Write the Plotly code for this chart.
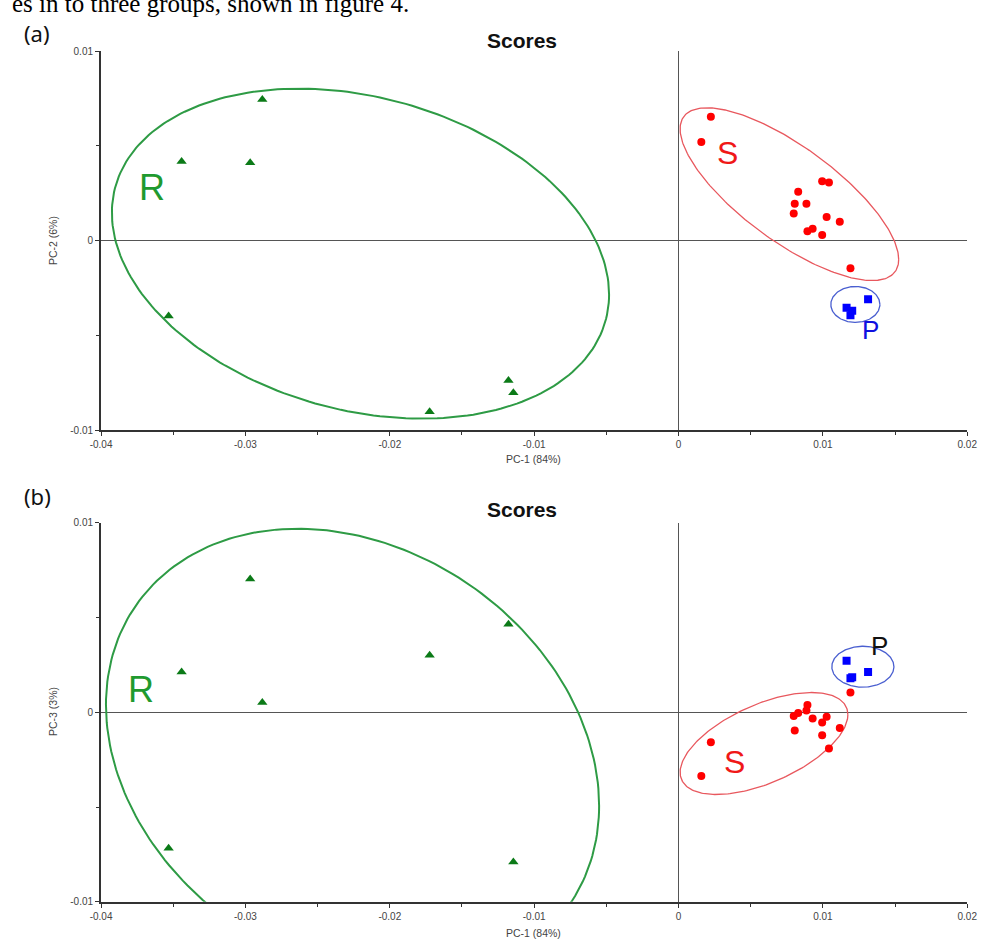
import numpy as np
import plotly.graph_objects as go

# ---------------- data (PCA scores) ----------------
R_pc1 = [-0.03442, -0.02967, -0.02883, -0.03532, -0.01724, -0.01178, -0.01144]
R_pc2 = [0.00417, 0.00411, 0.00744, -0.00398, -0.00904, -0.00739, -0.00803]
R_pc3 = [0.00212, 0.00703, 0.00051, -0.00717, 0.00300, 0.00464, -0.00790]

S_pc1 = [0.00224, 0.00158, 0.00995, 0.01042, 0.00829, 0.00805, 0.00886,
         0.00798, 0.01026, 0.01117, 0.00893, 0.00929, 0.00995, 0.01191]
S_pc2 = [0.00654, 0.00520, 0.00313, 0.00306, 0.00258, 0.00195, 0.00195,
         0.00143, 0.00125, 0.00099, 0.00049, 0.00063, 0.00030, -0.00146]
S_pc3 = [-0.00158, -0.00336, -0.00054, -0.00191, -0.00004, -0.00096, 0.00009,
         -0.00020, -0.00024, -0.00083, 0.00038, -0.00033, -0.00121, 0.00104]

P_pc1 = [0.01164, 0.01191, 0.01313, 0.01203]
P_pc2 = [-0.00355, -0.00394, -0.00309, -0.00370]
P_pc3 = [0.00271, 0.00179, 0.00212, 0.00184]

# confidence ellipses: (centre x, centre y, sd x, sd y, correlation)
ELL_A = {"R": (-0.02203, -0.00069, 0.01722, 0.00871, -0.2476),
         "S": (0.00768, 0.00245, 0.00757, 0.00456, -0.755),
         "P": (0.01225, -0.00337, 0.00170, 0.00095, 0.0)}
ELL_B = {"R": (-0.02258, -0.00227, 0.01708, 0.01195, -0.223),
         "S": (0.00592, -0.00165, 0.00581, 0.00269, 0.565),
         "P": (0.01277, 0.00240, 0.00215, 0.00108, 0.0)}

X_TICKS = [-0.04, -0.03, -0.02, -0.01, 0, 0.01, 0.02]
X_TICKTEXT = ["-0.04", "-0.03", "-0.02", "-0.01", "0", "0.01", "0.02"]
Y_TICKS = [-0.01, 0, 0.01]
Y_TICKTEXT = ["-0.01", "0", "0.01"]

# ---------------- style ----------------
W, H = 989, 946
FONT = "Liberation Sans, Arial, sans-serif"
GREEN_PT, GREEN_EL, GREEN_TX = "#0b7a17", "#2e9b45", "#1f9a2f"
RED_PT, RED_EL = "#ff0000", "#e8585e"
BLUE_PT, BLUE_EL = "#0000ff", "#4a5fd0"


def px(x):
    return x / W


def py(y):
    return 1 - y / H


def ellipse(params):
    cx, cy, sx, sy, rho = params
    cov = np.array([[sx * sx, rho * sx * sy], [rho * sx * sy, sy * sy]])
    L = np.linalg.cholesky(cov)
    t = np.linspace(0, 2 * np.pi, 241)
    pts = L @ np.vstack([np.cos(t), np.sin(t)])
    return cx + pts[0], cy + pts[1]


fig = go.Figure()

panels = [("x", "y", R_pc2, S_pc2, P_pc2, ELL_A),
          ("x2", "y2", R_pc3, S_pc3, P_pc3, ELL_B)]

for xa, ya, r_y, s_y, p_y, ell in panels:
    for key, col in (("R", GREEN_EL), ("S", RED_EL), ("P", BLUE_EL)):
        ex, ey = ellipse(ell[key])
        fig.add_trace(go.Scatter(x=ex, y=ey, mode="lines", xaxis=xa, yaxis=ya,
                                 line=dict(color=col, width=2 if key == "R" else 1.3),
                                 hoverinfo="skip", showlegend=False))
    fig.add_trace(go.Scatter(x=R_pc1, y=r_y, mode="markers", xaxis=xa, yaxis=ya,
                             marker=dict(symbol="triangle-up", size=9, color=GREEN_PT),
                             showlegend=False))
    fig.add_trace(go.Scatter(x=S_pc1, y=s_y, mode="markers", xaxis=xa, yaxis=ya,
                             marker=dict(symbol="circle", size=8, color=RED_PT),
                             showlegend=False))
    fig.add_trace(go.Scatter(x=P_pc1, y=p_y, mode="markers", xaxis=xa, yaxis=ya,
                             marker=dict(symbol="square", size=8, color=BLUE_PT),
                             showlegend=False))

X_DOM = [px(92), px(977)]
axis_common = dict(showgrid=False, showline=True, linecolor="#333", linewidth=2,
                   ticks="outside", ticklen=4, tickcolor="#333", tickwidth=1,
                   zeroline=True, zerolinecolor="#555", zerolinewidth=1.3,
                   tickfont=dict(family=FONT, size=10, color="#444"),
                   mirror=False)
xminor = dict(dtick=0.005, tick0=0, ticks="outside", ticklen=3, tickcolor="#333")
yminor = dict(dtick=0.005, tick0=0, ticks="outside", ticklen=3, tickcolor="#333")

fig.update_layout(
    width=W, height=H, paper_bgcolor="white", plot_bgcolor="white",
    margin=dict(l=0, r=0, t=0, b=0), showlegend=False,
    font=dict(family=FONT),
    xaxis=dict(domain=X_DOM, range=[-0.04, 0.02], anchor="y",
               tickvals=X_TICKS, ticktext=X_TICKTEXT, minor=xminor, **axis_common),
    yaxis=dict(domain=[py(429.5), py(45.7)], range=[-0.01, 0.01], anchor="x",
               tickvals=Y_TICKS, ticktext=Y_TICKTEXT, minor=yminor, **axis_common),
    xaxis2=dict(domain=X_DOM, range=[-0.04, 0.02], anchor="y2",
                tickvals=X_TICKS, ticktext=X_TICKTEXT, minor=xminor, **axis_common),
    yaxis2=dict(domain=[py(907.3), py(523.3)], range=[-0.01, 0.01], anchor="x2",
                tickvals=Y_TICKS, ticktext=Y_TICKTEXT, minor=yminor, **axis_common),
)

ann = []
# panel titles and axis titles
for ytitle, yx, ylab, ylab_y, letter, let_y in ((35, 459, "PC-2 (6%)", 238, "(a)", 27),
                                                 (510, 939, "PC-3 (3%)", 715, "(b)", 496)):
    ann.append(dict(x=px(522), y=py(ytitle), xref="paper", yref="paper", showarrow=False,
                    xanchor="center", yanchor="middle",
                    text="<b>Scores</b>", font=dict(family=FONT, size=21, color="#111")))
    ann.append(dict(x=px(534), y=py(yx), xref="paper", yref="paper", showarrow=False,
                    xanchor="center", yanchor="middle",
                    text="PC-1 (84%)", font=dict(family=FONT, size=10.5, color="#444")))
    ann.append(dict(x=px(43), y=py(ylab_y), xref="paper", yref="paper", showarrow=False,
                    xanchor="center", yanchor="middle",
                    text=ylab, textangle=-90, font=dict(family=FONT, size=10.5, color="#444")))
    ann.append(dict(x=px(27), y=py(let_y), xref="paper", yref="paper", showarrow=False,
                    xanchor="center", yanchor="middle", borderpad=0,
                    text=letter, font=dict(family="Noto Sans, " + FONT, size=22, color="#111")))

# group labels
lab = dict(showarrow=False, xanchor="center", yanchor="middle")
ann += [
    dict(x=-0.0365, y=0.0028, xref="x", yref="y", text="R",
         font=dict(family=FONT, size=36, color=GREEN_TX), **lab),
    dict(x=0.0034, y=0.0046, xref="x", yref="y", text="S",
         font=dict(family=FONT, size=32, color="#f01818"), **lab),
    dict(x=0.0133, y=-0.0047, xref="x", yref="y", text="P",
         font=dict(family=FONT, size=26, color="#1010e0"), **lab),
    dict(x=-0.0372, y=0.0012, xref="x2", yref="y2", text="R",
         font=dict(family=FONT, size=36, color=GREEN_TX), **lab),
    dict(x=0.0039, y=-0.0026, xref="x2", yref="y2", text="S",
         font=dict(family=FONT, size=32, color="#f01818"), **lab),
    dict(x=0.0139, y=0.0035, xref="x2", yref="y2", text="P",
         font=dict(family=FONT, size=26, color="#111"), **lab),
]

# clipped line of body text at the top of the page
ann.append(dict(x=0, y=py(12), xref="paper", yref="paper", xanchor="left", yanchor="bottom",
                showarrow=False, borderpad=0, text="es in to three groups, shown in figure 4.",
                font=dict(family="Liberation Serif, Times New Roman, serif", size=25, color="#000")))

fig.update_layout(annotations=ann)
fig.write_html("out.html", config={"displayModeBar": False},
               post_script="document.body.style.margin='0';document.body.style.overflow='hidden';")
